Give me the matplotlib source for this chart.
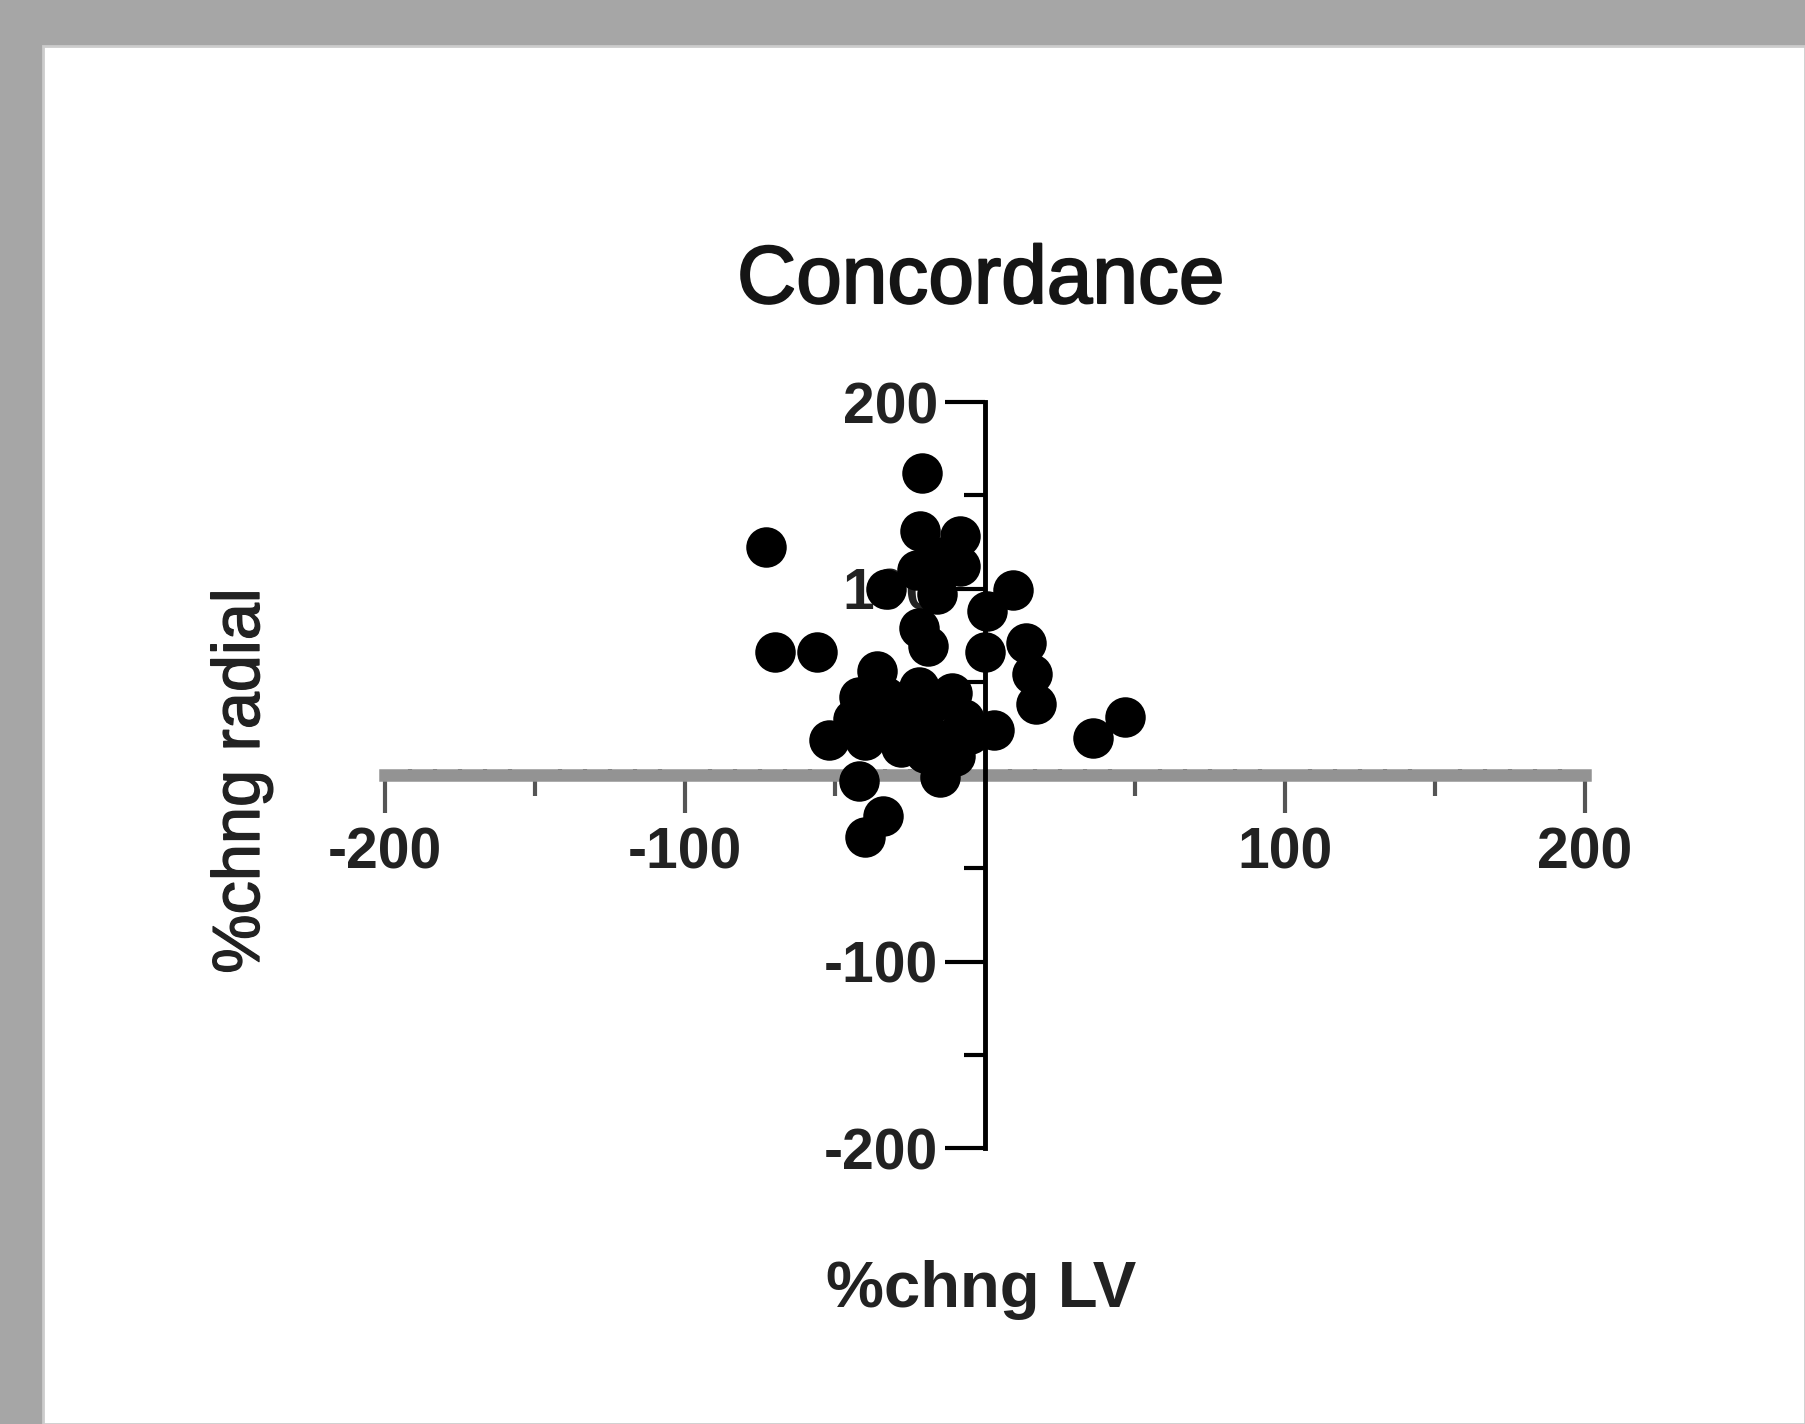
import matplotlib
matplotlib.use("Agg")
import matplotlib.pyplot as plt
import matplotlib.patheffects as pe
from matplotlib.patches import Rectangle
from matplotlib.ticker import MultipleLocator, FixedLocator

plt.rcParams['font.family'] = ['Liberation Sans', 'DejaVu Sans']

# %chng LV (x) vs %chng radial (y)
lv_change = [-21, -73, -70, -56, -21.7, -8.3, -16, -8.3, -22.8, -16, -33,
             9.4, 0.6, 13.5, 0, 15.7, 17, 3, 46.7, 36,
             -22, -19, -42, -15, -34, -40,
             -36, -42, -44, -52, -31, -25, -11, -7, -16, -23, -40, -20, -11, -22,
             -33, -18, -28, -10, -35, -5]
radial_change = [162, 122, 66, 66, 131, 128, 117, 112, 110, 97, 100,
                 99, 88, 71, 66, 54, 38, 24, 31, 20,
                 79, 69, -3, -1, -22, -33,
                 56, 42, 30, 19, 30, 38, 44, 30, 19, 24, 19, 12, 20, 47,
                 42, 38, 15, 10, 25, 22]

x_ticks = [-200, -100, 100, 200]
y_ticks = [-200, -100, 100, 200]
all_ticks = [-200, -150, -100, -50, 50, 100, 150, 200]

W, H = 1805, 1424
fig = plt.figure(figsize=(W / 100, H / 100), dpi=100, facecolor='#a6a6a6')

# white page on the grey background
fig.patches.append(Rectangle((43 / W, 0), 1 - 43 / W, 1 - 46 / H,
                             transform=fig.transFigure, facecolor='white',
                             edgecolor='#cccccc', linewidth=2, zorder=-10))

ax = fig.add_axes([385 / W, 1 - 1148 / H, 1200 / W, 746 / H])
ax.set_facecolor('none')
ax.set_xlim(-200, 200)
ax.set_ylim(-200, 200)

ax.scatter(lv_change, radial_change, s=850, color='black', linewidths=0, zorder=3)

for side in ['top', 'right']:
    ax.spines[side].set_visible(False)
ax.spines['left'].set_position(('data', 0))
ax.spines['bottom'].set_position(('data', 0))
ax.spines['left'].set_linewidth(3.5)
ax.spines['left'].set_color('black')
ax.spines['left'].set_zorder(4)
ax.spines['bottom'].set_linewidth(9)
ax.spines['bottom'].set_color('#939393')
ax.spines['bottom'].set_zorder(2)

# x axis: ticks every 50, long ones labelled, dense minor ticks
ax.xaxis.set_major_locator(FixedLocator(all_ticks))
ax.xaxis.set_minor_locator(MultipleLocator(50 / 6))
ax.set_xticklabels([str(v) if v in x_ticks else '' for v in all_ticks])
ax.tick_params(axis='x', which='major', direction='out', length=27, width=3,
               color='#555555', pad=10, labelsize=41, labelcolor='#222222')
ax.tick_params(axis='x', which='minor', direction='inout', length=8, width=3,
               color='#5c5c5c')
for t, v in zip(ax.xaxis.get_major_ticks(), all_ticks):
    if v not in x_ticks:
        t.tick1line.set_markersize(15)
        t.tick1line.set_color('#777777')

ax.yaxis.set_major_locator(FixedLocator(all_ticks))
ax.set_yticklabels([str(v) if v in y_ticks else '' for v in all_ticks])
ax.tick_params(axis='y', which='major', direction='out', length=29, width=3,
               color='black', pad=5, labelsize=41, labelcolor='#222222')
for t, v in zip(ax.yaxis.get_major_ticks(), all_ticks):
    if v not in y_ticks:
        t.tick1line.set_markersize(15)
        t.tick1line.set_color('#777777')

for lab in ax.get_xticklabels() + ax.get_yticklabels():
    lab.set_fontweight('bold')

fig.text(981 / W, 1 - 303 / H, 'Concordance', ha='center', va='baseline',
         fontsize=59, color='#151515',
         path_effects=[pe.withStroke(linewidth=1.5, foreground='#151515')])
fig.text(981 / W, 1 - 1307 / H, '%chng LV', ha='center', va='baseline',
         fontsize=47, fontweight='bold', color='#222222')
fig.text(242 / W, 1 - 781 / H, '%chng radial', ha='center', va='center',
         rotation=90, fontsize=48, color='#222222',
         path_effects=[pe.withStroke(linewidth=1.0, foreground='#222222')])

fig.savefig('out.png', dpi=100, facecolor=fig.get_facecolor())
